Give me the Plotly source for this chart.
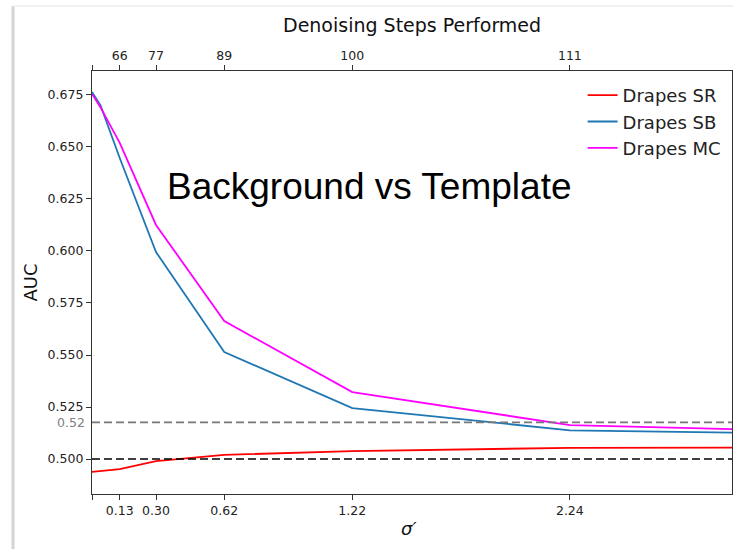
import plotly.graph_objects as go

# ---- data ----
sigma = [0.0, 0.04, 0.13, 0.30, 0.62, 1.22, 2.24, 3.0]
auc_sr = [0.4938, 0.4942, 0.4952, 0.4990, 0.5020, 0.5038, 0.5054, 0.5055]
auc_sb = [0.6764, 0.6700, 0.6447, 0.5995, 0.5514, 0.5245, 0.5138, 0.5127]
auc_mc = [0.6755, 0.6690, 0.6520, 0.6125, 0.5663, 0.5322, 0.5163, 0.5144]

bottom_tickvals = [0.0, 0.13, 0.30, 0.62, 1.22, 2.24]
bottom_ticktext = ["", "0.13", "0.30", "0.62", "1.22", "2.24"]
top_ticktext = ["", "66", "77", "89", "100", "111"]
y_tickvals = [0.500, 0.525, 0.550, 0.575, 0.600, 0.625, 0.650, 0.675]
ref_gray = 0.5176
ref_gray_label = "0.52"
ref_black = 0.500

names = ["Drapes SR", "Drapes SB", "Drapes MC"]
colors = ["#ff0000", "#1f77b4", "#ff00ff"]

x_range = [0.0, 3.0]
y_range = [0.4832, 0.6865]

FONT = "DejaVu Sans"
AX = "#333333"

fig = go.Figure()
for ys, nm, c in zip([auc_sr, auc_sb, auc_mc], names, colors):
    fig.add_trace(go.Scatter(x=sigma, y=ys, mode="lines", name=nm,
                             line=dict(color=c, width=1.8)))

# dummy trace for top axis
fig.add_trace(go.Scatter(x=x_range, y=[None, None], xaxis="x2", showlegend=False,
                         hoverinfo="skip"))

# reference dashed lines
fig.add_shape(type="line", xref="paper", x0=0, x1=1, yref="y", y0=ref_gray, y1=ref_gray,
              line=dict(color="#777777", width=1.6, dash="8px,4px"))
fig.add_shape(type="line", xref="paper", x0=0, x1=1, yref="y", y0=ref_black, y1=ref_black,
              line=dict(color="#000000", width=1.6, dash="8px,4px"))

# screenshot frame
fig.add_shape(type="line", xref="paper", yref="paper", x0=-0.1234, x1=-0.1234, y0=-0.14, y1=1.1537,
              line=dict(color="#d4d4d4", width=3), layer="above")
fig.add_shape(type="line", xref="paper", yref="paper", x0=-0.1234, x1=1.01, y0=1.1537, y1=1.1537,
              line=dict(color="#eeeeee", width=1.5), layer="above")

fig.update_layout(
    width=733, height=549,
    margin=dict(l=92, r=1, t=71, b=55),
    paper_bgcolor="white", plot_bgcolor="white",
    font=dict(family=FONT, size=12, color="#222222"),
    showlegend=True,
    legend=dict(x=0.99, y=0.986, xanchor="right", yanchor="top",
                bgcolor="rgba(255,255,255,0)", borderwidth=0,
                font=dict(family=FONT, size=18, color="#222222"),
                itemwidth=30, tracegroupgap=0),
    xaxis=dict(range=x_range, tickmode="array", tickvals=bottom_tickvals,
               ticktext=bottom_ticktext, ticks="outside", ticklen=5, tickcolor=AX,
               showline=True, linecolor=AX, linewidth=1.2, mirror=False,
               showgrid=False, zeroline=False, tickfont=dict(size=12.5)),
    xaxis2=dict(range=x_range, overlaying="x", side="top", anchor="y",
                tickmode="array", tickvals=bottom_tickvals, ticktext=top_ticktext,
                ticks="outside", ticklen=5, tickcolor=AX,
                showline=True, linecolor=AX, linewidth=1.2,
                showgrid=False, zeroline=False, tickfont=dict(size=12.5)),
    yaxis=dict(range=y_range, tickmode="array", tickvals=y_tickvals, tickformat=".3f",
               ticks="outside", ticklen=5, tickcolor=AX,
               showline=True, linecolor=AX, linewidth=1.2, mirror=True,
               showgrid=False, zeroline=False, tickfont=dict(size=12.5)),
)

# annotations: titles and gray label
fig.add_annotation(text="Denoising Steps Performed", xref="paper", yref="paper",
                   x=0.5, y=1, yanchor="middle", yshift=46, showarrow=False,
                   font=dict(family=FONT, size=19, color="#111111"))
fig.add_annotation(text="<i>σ′</i>", xref="paper", yref="paper",
                   x=0.495, y=0, yanchor="middle", yshift=-34, showarrow=False,
                   font=dict(family=FONT, size=18, color="#111111"))
fig.add_annotation(text="AUC", xref="paper", yref="paper", textangle=-90,
                   x=0, y=0.5, xanchor="center", yanchor="middle", xshift=-62,
                   showarrow=False, font=dict(family=FONT, size=18, color="#111111"))
fig.add_annotation(text=ref_gray_label, xref="paper", yref="y",
                   x=0, y=ref_gray, xanchor="right", yanchor="middle", xshift=-5,
                   showarrow=False, font=dict(family=FONT, size=12.5, color="#808080"))
fig.add_annotation(text="Background vs Template", xref="paper", yref="paper",
                   x=0.434, y=0.726, xanchor="center", yanchor="middle", showarrow=False,
                   font=dict(family="Liberation Sans", size=37, color="#000000"))

fig.write_html("out.html")
